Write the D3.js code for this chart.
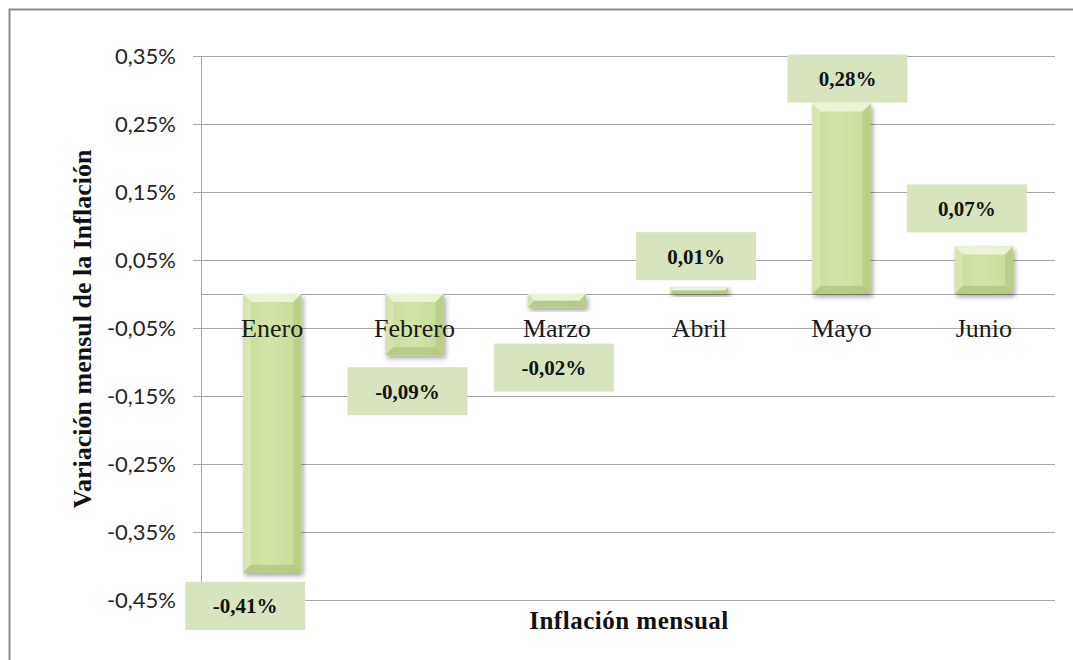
<!DOCTYPE html>
<meta charset="utf-8">
<style>
body { margin: 0; background: #fff; }
svg { display: block; }
.grid line { stroke: #a6a6a6; stroke-width: 1; }
.tick-label { font: 22px Lato, "Open Sans", sans-serif; fill: #262626; }
.cat-label { font: 26px "Liberation Serif", "Times New Roman", serif; fill: #1a1a1a; }
.val-label { font: bold 21px "Liberation Serif", "Times New Roman", serif; fill: #111; }
.axis-title { font: bold 26px "Liberation Serif", "Times New Roman", serif; fill: #111; }
</style>
<svg width="1073" height="660"></svg>
<script src="https://d3js.org/d3.v7.min.js"></script>
<script>

// data
var months = ["Enero", "Febrero", "Marzo", "Abril", "Mayo", "Junio"];
var inflation = [-0.41, -0.09, -0.02, 0.01, 0.28, 0.07];
var yTicks = [-0.45, -0.35, -0.25, -0.15, -0.05, 0.05, 0.15, 0.25, 0.35];

// hand placed data labels (offset from the bar end), like in the original sheet
var labelNudge = [[-27, 33], [-7, 36], [-3, 60], [-3, -31], [6, -25], [-17, -38]];

var svg = d3.select("svg");
var plotL = 201, plotR = 1055, plotT = 56, plotB = 600;

var x = d3.scaleBand().domain(months).range([plotL, plotR]).paddingInner(0.59).paddingOuter(0.295);
var y = d3.scaleLinear().domain([-0.45, 0.35]).range([plotB, plotT]);

var fmt = function(v) { return v.toFixed(2).replace(".", ",") + "%"; };

// outer frame
svg.append("rect")
  .attr("x", 9.5).attr("y", 9.5)
  .attr("width", 1080).attr("height", 680)
  .attr("fill", "none").attr("stroke", "#8c8c8c").attr("stroke-width", 2);

var defs = svg.append("defs");
var grad = defs.append("linearGradient").attr("id", "barFill")
  .attr("x1", 0).attr("x2", 1).attr("y1", 0).attr("y2", 0);
grad.append("stop").attr("offset", "0%").attr("stop-color", "#c8dc98");
grad.append("stop").attr("offset", "45%").attr("stop-color", "#d3e4a9");
grad.append("stop").attr("offset", "100%").attr("stop-color", "#c6da95");

var shadow = defs.append("filter").attr("id", "shadow")
  .attr("x", "-30%").attr("y", "-30%").attr("width", "160%").attr("height", "160%");
shadow.append("feDropShadow").attr("dx", 2).attr("dy", 3).attr("stdDeviation", 2.5)
  .attr("flood-color", "#000").attr("flood-opacity", 0.35);

// grid
var grid = svg.append("g").attr("class", "grid");
grid.selectAll(".h").data(yTicks).enter().append("line")
  .attr("x1", plotL - 8).attr("x2", plotR)
  .attr("y1", function(d) { return Math.round(y(d)) + 0.5; })
  .attr("y2", function(d) { return Math.round(y(d)) + 0.5; });
grid.append("line")
  .attr("x1", plotL).attr("x2", plotR)
  .attr("y1", Math.round(y(0)) + 0.5).attr("y2", Math.round(y(0)) + 0.5);
grid.append("line")
  .attr("x1", plotL + 0.5).attr("x2", plotL + 0.5)
  .attr("y1", plotT).attr("y2", plotB);

// tick labels
svg.selectAll(".tick-label").data(yTicks).enter().append("text")
  .attr("class", "tick-label")
  .attr("x", 176)
  .attr("y", function(d) { return y(d); })
  .attr("dy", "0.35em")
  .attr("text-anchor", "end")
  .text(fmt);

// bars
var bars = svg.selectAll(".bar").data(inflation).enter().append("g")
  .attr("class", "bar")
  .attr("filter", "url(#shadow)");

bars.each(function(v, i) {
  var g = d3.select(this);
  var bx = x(months[i]), bw = x.bandwidth();
  var by = y(Math.max(0, v)), bh = Math.abs(y(v) - y(0));
  g.append("rect").attr("x", bx).attr("y", by).attr("width", bw).attr("height", bh)
    .attr("fill", "url(#barFill)");
  var b = Math.min(8, bh / 2);
  var x0 = bx, x1 = bx + bw, y0 = by, y1 = by + bh;
  // bevel faces
  g.append("polygon")
    .attr("points", [[x0, y0], [x1, y0], [x1 - b, y0 + b], [x0 + b, y0 + b]].join(" "))
    .attr("fill", "#f4f9e4").attr("opacity", 0.75);
  g.append("polygon")
    .attr("points", [[x0, y0], [x0 + b, y0 + b], [x0 + b, y1 - b], [x0, y1]].join(" "))
    .attr("fill", "#e3eec4").attr("opacity", 0.5);
  g.append("polygon")
    .attr("points", [[x1, y0], [x1, y1], [x1 - b, y1 - b], [x1 - b, y0 + b]].join(" "))
    .attr("fill", "#a9bf78").attr("opacity", 0.45);
  g.append("polygon")
    .attr("points", [[x0, y1], [x0 + b, y1 - b], [x1 - b, y1 - b], [x1, y1]].join(" "))
    .attr("fill", "#9fb56e").attr("opacity", 0.5);
});

// category labels (drawn on top of the bars)
svg.selectAll(".cat-label").data(months).enter().append("text")
  .attr("class", "cat-label")
  .attr("x", function(d) { return x(d) + x.bandwidth() / 2; })
  .attr("y", y(-0.05))
  .attr("dy", "0.33em")
  .attr("text-anchor", "middle")
  .text(function(d) { return d; });

// value labels
var labels = svg.selectAll(".val").data(inflation).enter().append("g")
  .attr("class", "val")
  .attr("transform", function(v, i) {
    var cx = x(months[i]) + x.bandwidth() / 2 + labelNudge[i][0];
    var cy = y(v) + labelNudge[i][1];
    return "translate(" + cx + "," + cy + ")";
  });
labels.append("rect")
  .attr("x", -60).attr("y", -24).attr("width", 120).attr("height", 48)
  .attr("fill", "#d7e4bd");
labels.append("text")
  .attr("class", "val-label")
  .attr("text-anchor", "middle")
  .attr("dy", "0.35em")
  .text(fmt);

// axis titles
svg.append("text")
  .attr("class", "axis-title")
  .attr("transform", "translate(82," + ((plotT + plotB) / 2 + 1) + ") rotate(-90)")
  .attr("text-anchor", "middle")
  .attr("dy", "0.35em")
  .text("Variación mensul de la Inflación");

svg.append("text")
  .attr("class", "axis-title")
  .attr("x", 629).attr("y", 620)
  .attr("dy", "0.35em")
  .attr("text-anchor", "middle")
  .style("font-size", "25px")
  .style("letter-spacing", "0.5px")
  .text("Inflación mensual");

</script>
